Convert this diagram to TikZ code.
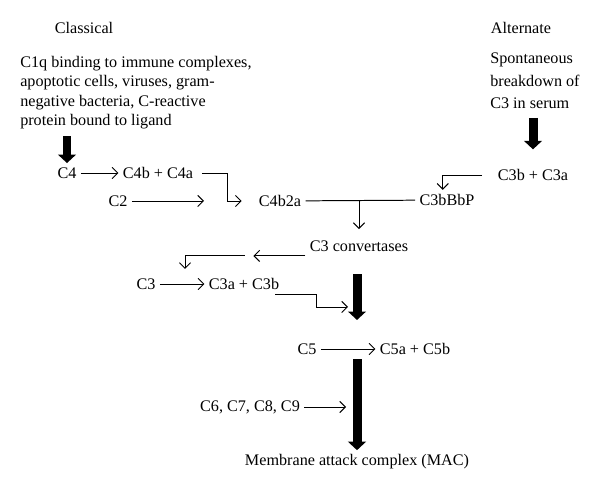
\documentclass[tikz,border=0pt]{standalone}
\usepackage{fontspec}
\setmainfont{Liberation Serif}
\usetikzlibrary{arrows.meta,calc}

\tikzset{
	lbl/.style={inner sep=3pt},
	thin/.style={line width=0.7pt,-{Straight Barb[length=4pt,width=8pt]}},
	plain/.style={line width=0.7pt},
	bigarrow/.style={line width=6.4pt,-{Triangle[length=6pt,width=12.5pt]}}
}

\begin{document}
\begin{tikzpicture}[x=0.25mm,y=-0.25mm,font=\fontsize{11.5}{13.7}\selectfont]
			\useasboundingbox (0,0) rectangle (600,492);
			
			\node[lbl] (classical) at (84,28) {Classical};
			\node[lbl] (alternate) at (521,28) {Alternate};
			\node[inner sep=0pt,anchor=north west,align=left] (trigger) at (20,56) {C1q binding to immune complexes,\\apoptotic cells, viruses, gram-\\negative bacteria, C-reactive\\protein bound to ligand};
			\node[inner sep=0pt,anchor=north west,align=left,font=\fontsize{11.5}{16}\selectfont] (spont) at (490,53) {Spontaneous\\breakdown of\\C3 in serum};
			
			\node[lbl] (c4) at (67,173) {C4};
			\node[lbl] (c4ba) at (158,173) {C4b + C4a};
			\node[lbl] (c2) at (118,201) {C2};
			\node[lbl] (c4b2a) at (280,201) {C4b2a};
			\node[lbl] (c3bbbp) at (447,200) {C3bBbP};
			\node[lbl] (c3ba) at (533,175) {C3b + C3a};
			\node[lbl] (conv) at (359,246) {C3 convertases};
			\node[lbl] (c3) at (146,284) {C3};
			\node[lbl] (c3ab) at (244,284) {C3a + C3b};
			\node[lbl] (c5) at (307,349) {C5};
			\node[lbl] (c5ab) at (415,349) {C5a + C5b};
			\node[lbl] (c69) at (250,407) {C6, C7, C8, C9};
			\node[lbl] (mac) at (357,462) {Membrane attack complex (MAC)};
			
			\coordinate (c2end) at (204,201);
			\coordinate (c3cleave) at (185,269);
			\coordinate (c5in) at (357,320);
			\coordinate (macin) at (346,407);
			\coordinate (c3in) at (348,307);
			
			\draw[bigarrow,shorten <=5pt] (c4.north |- trigger.south) -- (c4.north);
			\draw[bigarrow,shorten <=6pt,shorten >=11pt] (c3ba.north |- spont.south) -- (c3ba.north);
			
			\draw[thin] (c4) -- (c4ba);
			\draw[thin] (c2) -- (c2end);
			\draw[thin,shorten <=3pt,shorten >=9pt] (c4ba.east) -- ++(30,0) |- (c4b2a.west);
			\draw[thin,shorten <=8pt] (c3ba.west) -| ([xshift=-3pt]c3bbbp.north);
			\draw[plain] (c4b2a) -- (c3bbbp);
			\draw[thin,shorten >=5pt] (conv.north |- c4b2a.east) -- (conv.north);
			
			\draw[thin] (conv.south west) -- ++(-52,0) coordinate (convout);
			\draw[thin] ([xshift=-6pt]convout) -| (c3cleave);
			\draw[thin] (c3) -- (c3ab);
			\draw[thin] ([xshift=-6pt]c3ab.south east) -- ++(41,0) |- (c3in);
			\draw[bigarrow,shorten <=13pt] (c5in |- conv.south) -- (c5in);
			
			\draw[thin] (c5) -- (c5ab);
			\draw[bigarrow] (mac.north |- c5ab.south) -- (mac.north);
			\draw[thin] (c69) -- (macin);
			\end{tikzpicture}
\end{document}
